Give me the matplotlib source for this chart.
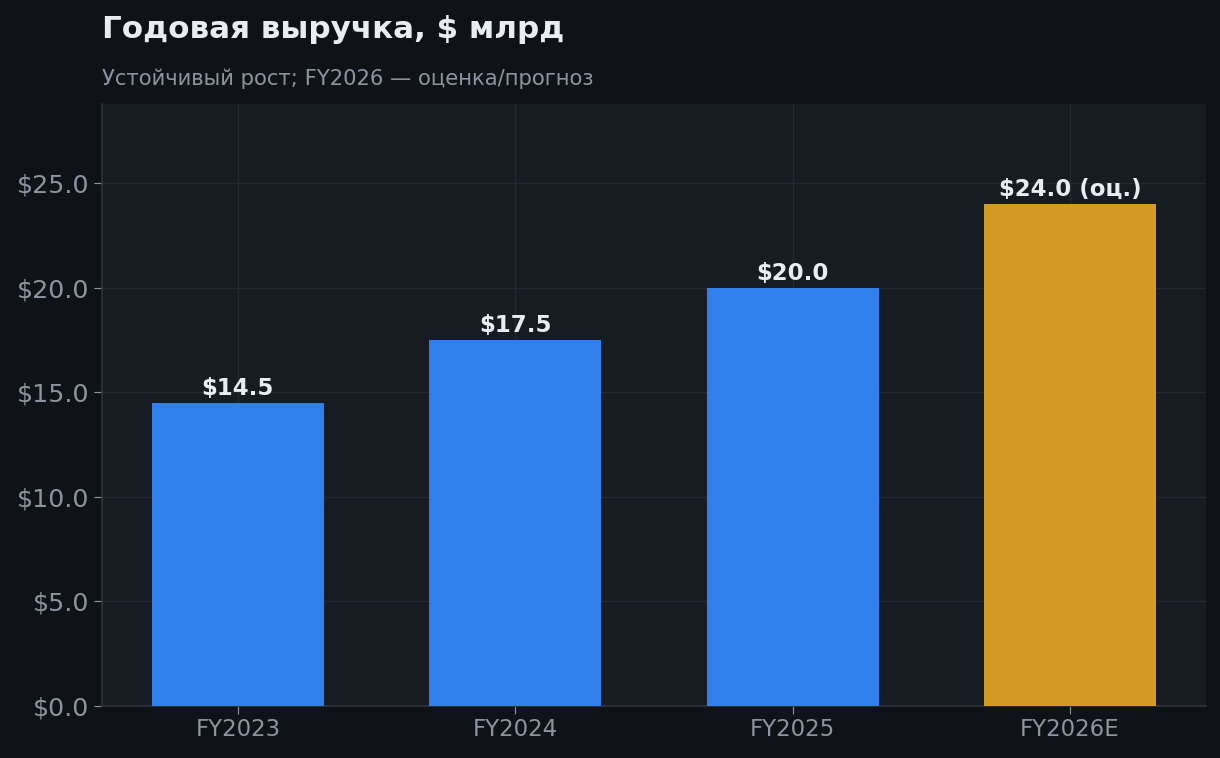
import matplotlib.pyplot as plt
from matplotlib.ticker import FuncFormatter

plt.rcParams['font.family'] = ['DejaVu Sans']

FIG_BG  = '#0f1317'
AX_BG   = '#171b22'
TEXT    = '#e8edf3'
MUTED   = '#8b95a1'
GRID    = '#252a32'
SPINE   = '#30353d'

categories = ['FY2023', 'FY2024', 'FY2025', 'FY2026E']
revenue    = [14.5, 17.5, 20.0, 24.0]
is_estimate = [False, False, False, True]
bar_colors = ['#d49a24' if e else '#2f80ed' for e in is_estimate]

fig = plt.figure(figsize=(12.2, 7.58), dpi=100, facecolor=FIG_BG)
ax = fig.add_axes([102/1220, 52/758, 1104/1220, 602/758])
ax.set_facecolor(AX_BG)

x = range(len(categories))
ax.bar(x, revenue, width=0.62, color=bar_colors, zorder=3)

for xi, v, est in zip(x, revenue, is_estimate):
    label = f'${v:.1f}' + (' (оц.)' if est else '')
    ax.text(xi, v + 0.15, label, ha='center', va='bottom',
            color=TEXT, fontsize=16.5, fontweight='bold', zorder=4)

ax.set_xlim(-0.49, 3.49)
ax.set_ylim(0, 28.8)
ax.set_yticks([0, 5, 10, 15, 20, 25])
ax.yaxis.set_major_formatter(FuncFormatter(lambda v, p: f'${v:.1f}'))
ax.set_xticks(list(x))
ax.set_xticklabels(categories)
ax.tick_params(colors=MUTED, labelsize=18.2, length=6, color=MUTED, pad=3)
ax.tick_params(axis='x', labelsize=16.5)
ax.grid(True, color=GRID, linewidth=1, zorder=0)
for side in ['top', 'right']:
    ax.spines[side].set_visible(False)
for side in ['left', 'bottom']:
    ax.spines[side].set_color(SPINE)
    ax.spines[side].set_linewidth(1.2)

fig.text(102/1220, 1 - 30/758, 'Годовая выручка, $ млрд', color=TEXT,
         fontsize=22.3, fontweight='bold', ha='left', va='center')
fig.text(102/1220, 1 - 79/758, 'Устойчивый рост; FY2026 — оценка/прогноз',
         color=MUTED, fontsize=15.2, ha='left', va='center')

plt.savefig('out.png', dpi=100, facecolor=FIG_BG)
